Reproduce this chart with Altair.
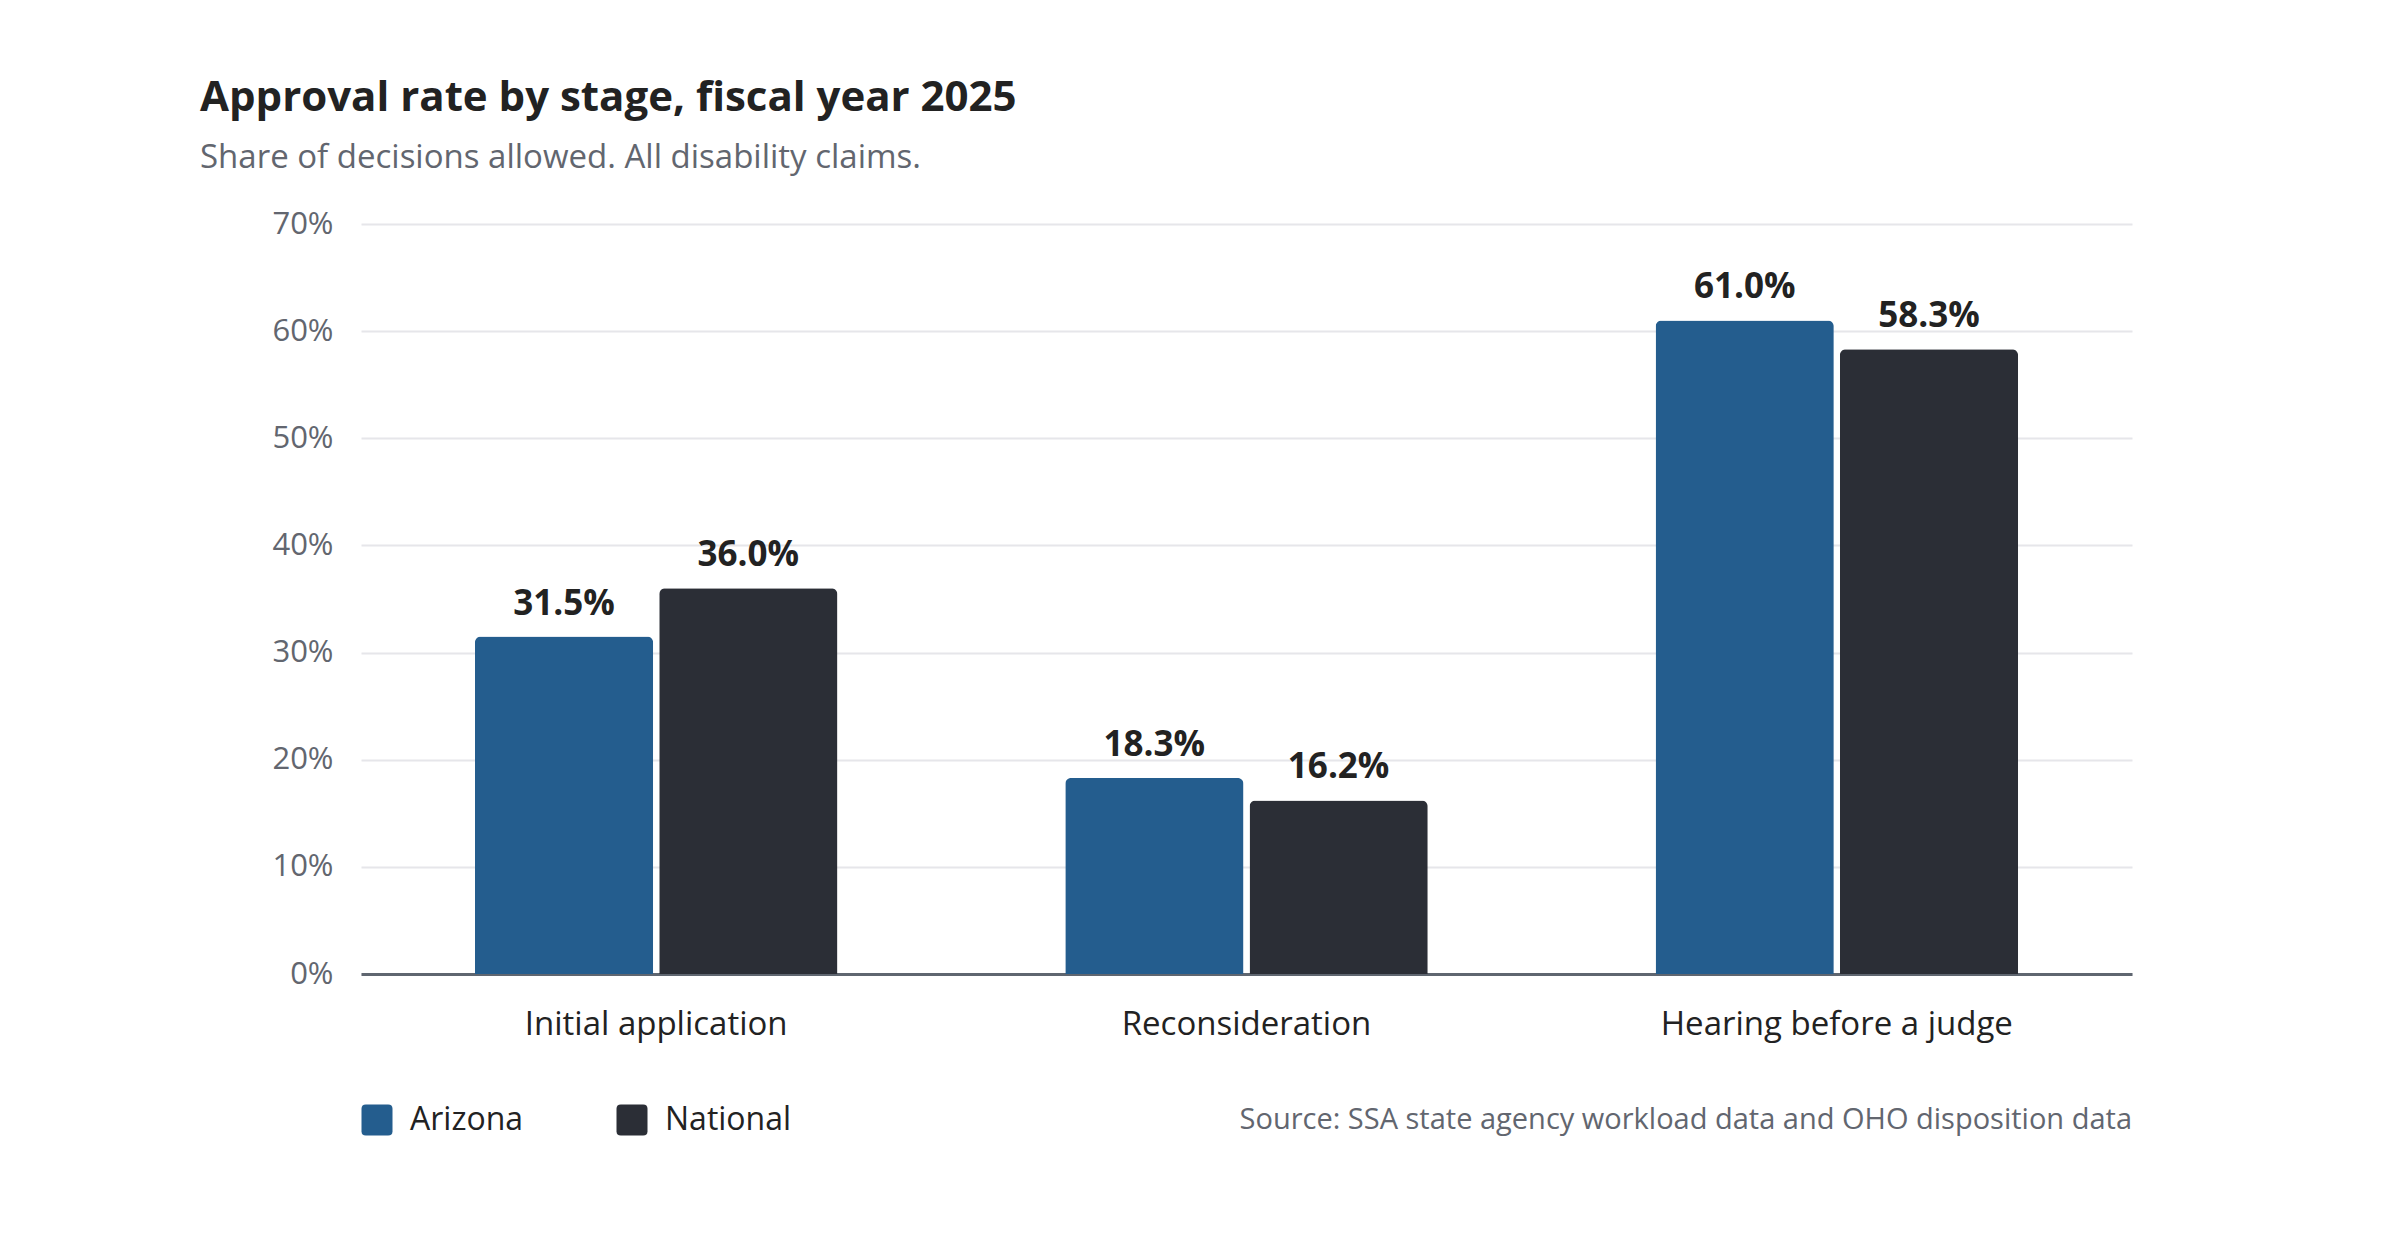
import altair as alt
import pandas as pd

stages = ["Initial application", "Reconsideration", "Hearing before a judge"]
arizona = [31.5, 18.3, 61.0]
national = [36.0, 16.2, 58.3]
series = ["Arizona", "National"]
colors = ["#245d8e", "#2b2e36"]
y_ticks = [0, 10, 20, 30, 40, 50, 60, 70]
title_text = "Approval rate by stage, fiscal year 2025"
subtitle_text = "Share of decisions allowed. All disability claims."
source_text = "Source: SSA state agency workload data and OHO disposition data"

rows = []
for s, a, n in zip(stages, arizona, national):
    rows.append({"stage": s, "series": "Arizona", "value": a})
    rows.append({"stage": s, "series": "National", "value": n})
df = pd.DataFrame(rows)
df["label"] = df["value"].map(lambda v: f"{v:.1f}%")

FONT = "Open Sans"
W, H = 1771, 750

x_enc = alt.X("stage:N", sort=stages,
              scale=alt.Scale(paddingInner=0.386, paddingOuter=0.193),
              axis=alt.Axis(title=None, labelAngle=0, ticks=False, domain=True, grid=False,
                            domainColor="#5f6670", domainWidth=3, labelLimit=0,
                            labelFontSize=33, labelColor="#222222", labelFont=FONT,
                            labelPadding=34))
xoff = alt.XOffset("series:N", sort=series, scale=alt.Scale(paddingInner=0.033, paddingOuter=0))
y_enc = alt.Y("value:Q", scale=alt.Scale(domain=[0, 70], nice=False),
              axis=alt.Axis(title=None, values=y_ticks, labelExpr="datum.value + '%'",
                            domain=False, ticks=False, grid=True, gridColor="#e6e6ea",
                            gridWidth=2, labelFontSize=31, labelColor="#62666f",
                            labelFont=FONT, labelPadding=28))

legend_symbol = ("M-0.72,-1 L0.72,-1 Q1,-1 1,-0.72 L1,0.72 Q1,1 0.72,1 "
                 "L-0.72,1 Q-1,1 -1,0.72 L-1,-0.72 Q-1,-1 -0.72,-1 Z")

bars = alt.Chart(df).mark_bar(cornerRadiusTopLeft=6, cornerRadiusTopRight=6).encode(
    x=x_enc,
    xOffset=xoff,
    y=y_enc,
    color=alt.Color("series:N", sort=series,
                    scale=alt.Scale(domain=series, range=colors),
                    legend=alt.Legend(title=None, orient="none", legendX=0, legendY=880,
                                      direction="horizontal", symbolType=legend_symbol,
                                      symbolSize=961, symbolStrokeWidth=0,
                                      labelFontSize=32, labelFont=FONT, labelColor="#222222",
                                      labelOffset=17, columnPadding=92)),
)

labels = alt.Chart(df).mark_text(baseline="bottom", dy=-15, fontSize=35, fontWeight="bold",
                                 font=FONT, color="#222222").encode(
    x=alt.X("stage:N", sort=stages),
    xOffset=alt.XOffset("series:N", sort=series),
    y=alt.Y("value:Q"),
    text="label:N",
)

source = alt.Chart(pd.DataFrame({"t": [source_text]})).mark_text(
    align="right", baseline="middle", fontSize=29, font=FONT, color="#62666f"
).encode(x=alt.value(W), y=alt.value(896), text="t:N")

chart = alt.layer(bars, labels, source).properties(
    width=W, height=H, background="white",
    title=alt.TitleParams(title_text, subtitle=subtitle_text, anchor="start", frame="group",
                          dx=-161, offset=32, font=FONT, fontSize=42, fontWeight="bold",
                          color="#222222", subtitleFont=FONT, subtitleFontSize=33,
                          subtitleColor="#62666f", subtitlePadding=22),
    autosize=alt.AutoSizeParams(type="none"),
    padding={"left": 353, "top": 216, "right": 260, "bottom": 278},
).configure_view(strokeWidth=0)

chart.save("out.html", embed_options={"renderer": "svg", "actions": False})
